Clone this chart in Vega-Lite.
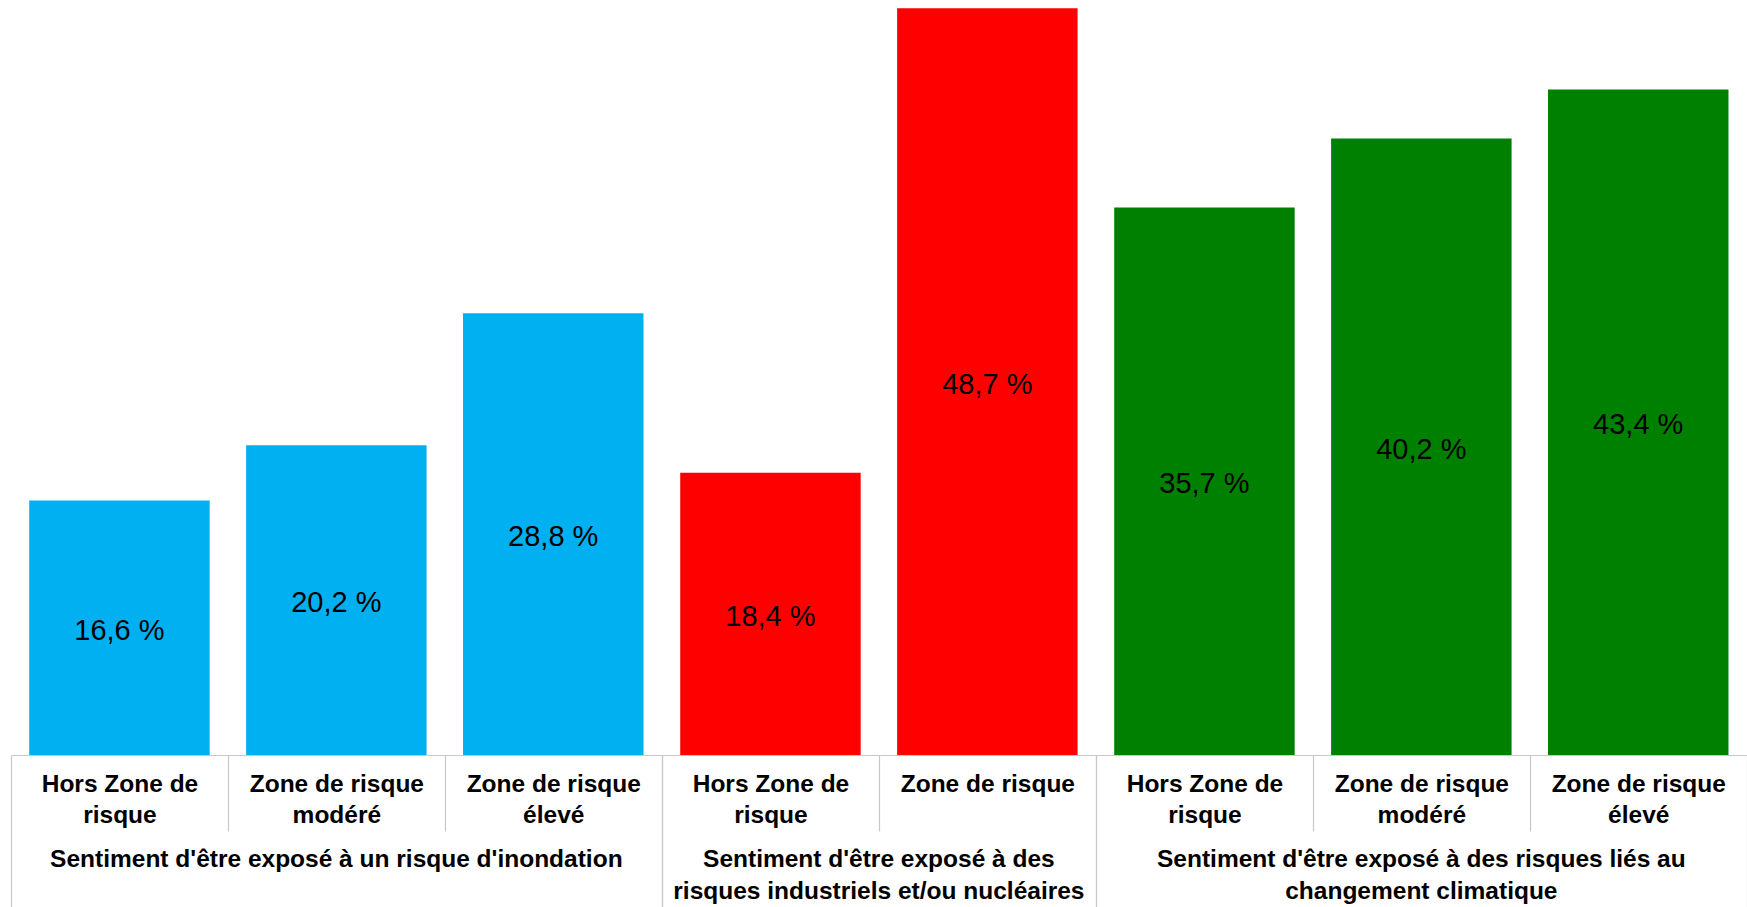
{
  "$schema": "https://vega.github.io/schema/vega-lite/v6.json",
  "autosize": {"type": "pad"},
  "padding": {"left": 10, "top": 0, "right": 0, "bottom": 0},
  "background": "white",
  "config": {
    "locale": {"number": {"decimal": ",", "thousands": " ", "grouping": [3], "currency": ["", " €"], "percent": " %"}},
    "view": {"stroke": null},
    "facet": {"spacing": 0}
  },
  "data": {"values": [
    {"group": "Sentiment d'être exposé à un risque d'inondation", "cat": "Hors Zone de\nrisque", "value": 0.166},
    {"group": "Sentiment d'être exposé à un risque d'inondation", "cat": "Zone de risque\nmodéré", "value": 0.202},
    {"group": "Sentiment d'être exposé à un risque d'inondation", "cat": "Zone de risque\nélevé", "value": 0.288},
    {"group": "Sentiment d'être exposé à des\nrisques industriels et/ou nucléaires", "cat": "Hors Zone de\nrisque", "value": 0.184},
    {"group": "Sentiment d'être exposé à des\nrisques industriels et/ou nucléaires", "cat": "Zone de risque", "value": 0.487},
    {"group": "Sentiment d'être exposé à des risques liés au\nchangement climatique", "cat": "Hors Zone de\nrisque", "value": 0.357},
    {"group": "Sentiment d'être exposé à des risques liés au\nchangement climatique", "cat": "Zone de risque\nmodéré", "value": 0.402},
    {"group": "Sentiment d'être exposé à des risques liés au\nchangement climatique", "cat": "Zone de risque\nélevé", "value": 0.434}
  ]},
  "bounds": "flush",
  "facet": {
    "column": {
      "field": "group",
      "type": "nominal",
      "sort": [
        "Sentiment d'être exposé à un risque d'inondation",
        "Sentiment d'être exposé à des\nrisques industriels et/ou nucléaires",
        "Sentiment d'être exposé à des risques liés au\nchangement climatique"
      ],
      "header": {
        "title": null,
        "labelOrient": "bottom",
        "labelExpr": "split(datum.value, '\\n')",
        "labelFont": "Liberation Sans",
        "labelFontWeight": "bold",
        "labelFontSize": 24.5,
        "labelColor": "black",
        "labelLineHeight": 32,
        "labelBaseline": "alphabetic",
        "labelPadding": 112,
        "labelLimit": 0
      }
    }
  },
  "spacing": 0,
  "resolve": {"scale": {"x": "independent"}},
  "spec": {
    "width": {"step": 216.9},
    "height": 755,
    "encoding": {
      "x": {
        "field": "cat",
        "type": "nominal",
        "sort": null,
        "scale": {"paddingInner": 0, "paddingOuter": 0},
        "axis": {
          "title": null,
          "labelExpr": "split(datum.label, '\\n')",
          "labelFont": "Liberation Sans",
          "labelFontWeight": "bold",
          "labelFontSize": 24.5,
          "labelColor": "black",
          "labelLineHeight": 31.6,
          "labelBaseline": "alphabetic",
          "labelPadding": {"condition": {"test": "datum.index == 1", "value": -115.6}, "value": -39.6},
          "labelAngle": 0,
          "labelOverlap": false,
          "labelLimit": 0,
          "labelBound": false,
          "tickBand": "extent",
          "tickSize": {"condition": {"test": "datum.index == 1 || datum.index < 0 || datum.extra", "value": 152}, "value": 76},
          "tickColor": "#c8c8c8",
          "tickWidth": 1.2,
          "domainColor": "#c8c8c8",
          "domainWidth": 1.2
        }
      }
    },
    "layer": [
      {
        "mark": {"type": "bar", "width": {"band": 0.832}},
        "encoding": {
          "y": {"field": "value", "type": "quantitative", "scale": {"domain": [0, 0.4923]}, "axis": null},
          "color": {
            "field": "group",
            "type": "nominal",
            "scale": {
              "domain": [
                "Sentiment d'être exposé à un risque d'inondation",
                "Sentiment d'être exposé à des\nrisques industriels et/ou nucléaires",
                "Sentiment d'être exposé à des risques liés au\nchangement climatique"
              ],
              "range": ["#00B0F0", "#FF0000", "#008000"]
            },
            "legend": null
          }
        }
      },
      {
        "mark": {"type": "text", "font": "Liberation Sans", "fontSize": 29, "baseline": "middle", "color": "black", "dy": 3},
        "encoding": {
          "y": {"field": "value", "type": "quantitative", "scale": {"domain": [0, 0.9846]}, "axis": null},
          "text": {"field": "value", "type": "quantitative", "format": ".1%"}
        }
      }
    ],
    "resolve": {"scale": {"y": "independent"}}
  }
}
